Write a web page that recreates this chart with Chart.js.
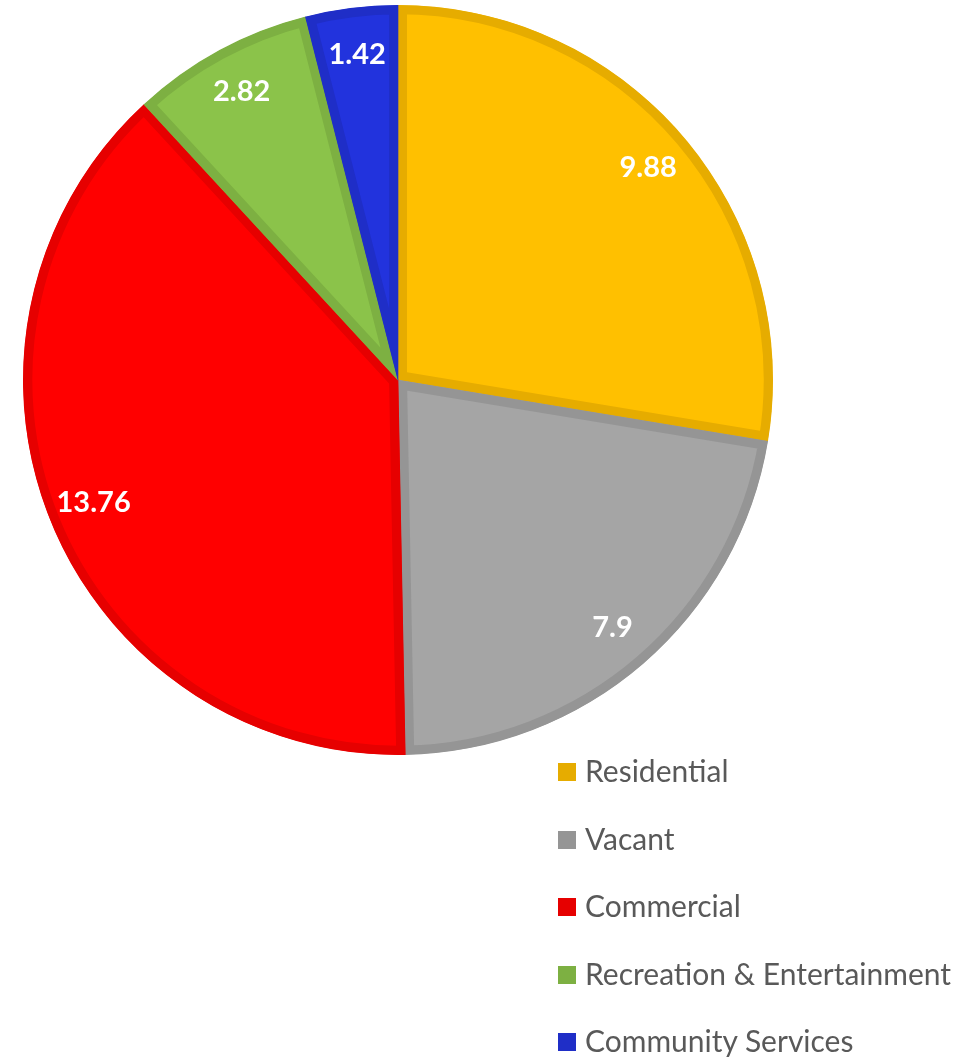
<!DOCTYPE html>
<html>
<head>
<meta charset="utf-8">
<script src="https://cdn.jsdelivr.net/npm/chart.js@4/dist/chart.umd.min.js"></script>
<style>
    html, body { margin: 0; padding: 0; background: #ffffff; }
    #wrap { position: relative; width: 975px; height: 1058px; overflow: hidden; }
    #pie-box { position: absolute; left: 0; top: 0; width: 796px; height: 760px; }
    #legend { position: absolute; left: 558px; top: 751px; margin: 0; padding: 0; list-style: none;
              font-family: Lato, "Open Sans", sans-serif; font-size: 30px; color: #595959; }
    #legend li { height: 67.5px; line-height: 38px; white-space: nowrap; }
    #legend span.box { display: inline-block; width: 18px; height: 18px; margin-right: 9px;
                       vertical-align: 1px; box-sizing: border-box; border: 1px solid; }
</style>
</head>
<body>
<div id="wrap">
    <div id="pie-box"><canvas id="canvas-pie"></canvas></div>
    <ul id="legend"></ul>
</div>
<script>
const land_use = ['Residential', 'Vacant', 'Commercial', 'Recreation & Entertainment', 'Community Services'];
const area_values = [9.88, 7.9, 13.76, 2.82, 1.42];
const fill_colors = ['#FFC000', '#A5A5A5', '#FF0000', '#8BC34A', '#2233DD'];
const edge_colors = ['#E6AC00', '#959595', '#E60000', '#7DB042', '#1F2EC7'];

// value labels placed near the outer edge of each slice
const slice_labels = {
    id: 'slice_labels',
    afterDatasetsDraw(chart) {
        const ctx = chart.ctx;
        const meta = chart.getDatasetMeta(0);
        ctx.save();
        ctx.fillStyle = '#ffffff';
        ctx.font = 'bold 29px Lato, "Open Sans", sans-serif';
        ctx.textAlign = 'center';
        ctx.textBaseline = 'middle';
        meta.data.forEach((arc, i) => {
            const p = arc.getProps(['x', 'y', 'startAngle', 'endAngle', 'outerRadius'], true);
            const mid = (p.startAngle + p.endAngle) / 2;
            const r = p.outerRadius - 47;
            ctx.fillText(String(area_values[i]), p.x + Math.cos(mid) * r, p.y + Math.sin(mid) * r);
        });
        ctx.restore();
    }
};

let legend = document.getElementById('legend');
for (let i = 0; i < land_use.length; i++) {
    let li = document.createElement('li');
    let box = document.createElement('span');
    box.className = 'box';
    box.style.background = edge_colors[i];
    box.style.borderColor = edge_colors[i];
    li.appendChild(box);
    li.appendChild(document.createTextNode(land_use[i]));
    legend.appendChild(li);
}

new Chart(document.getElementById('canvas-pie').getContext('2d'), {
    type: 'pie',
    data: {
        labels: land_use,
        datasets: [{
            data: area_values,
            backgroundColor: fill_colors,
            borderColor: edge_colors,
            borderWidth: 9,
            borderAlign: 'inner',
            borderJoinStyle: 'miter'
        }]
    },
    options: {
        responsive: true,
        maintainAspectRatio: false,
        animation: false,
        layout: { padding: 5 },
        plugins: {
            legend: { display: false },
            tooltip: { enabled: false }
        }
    },
    plugins: [slice_labels]
});
</script>
</body>
</html>
